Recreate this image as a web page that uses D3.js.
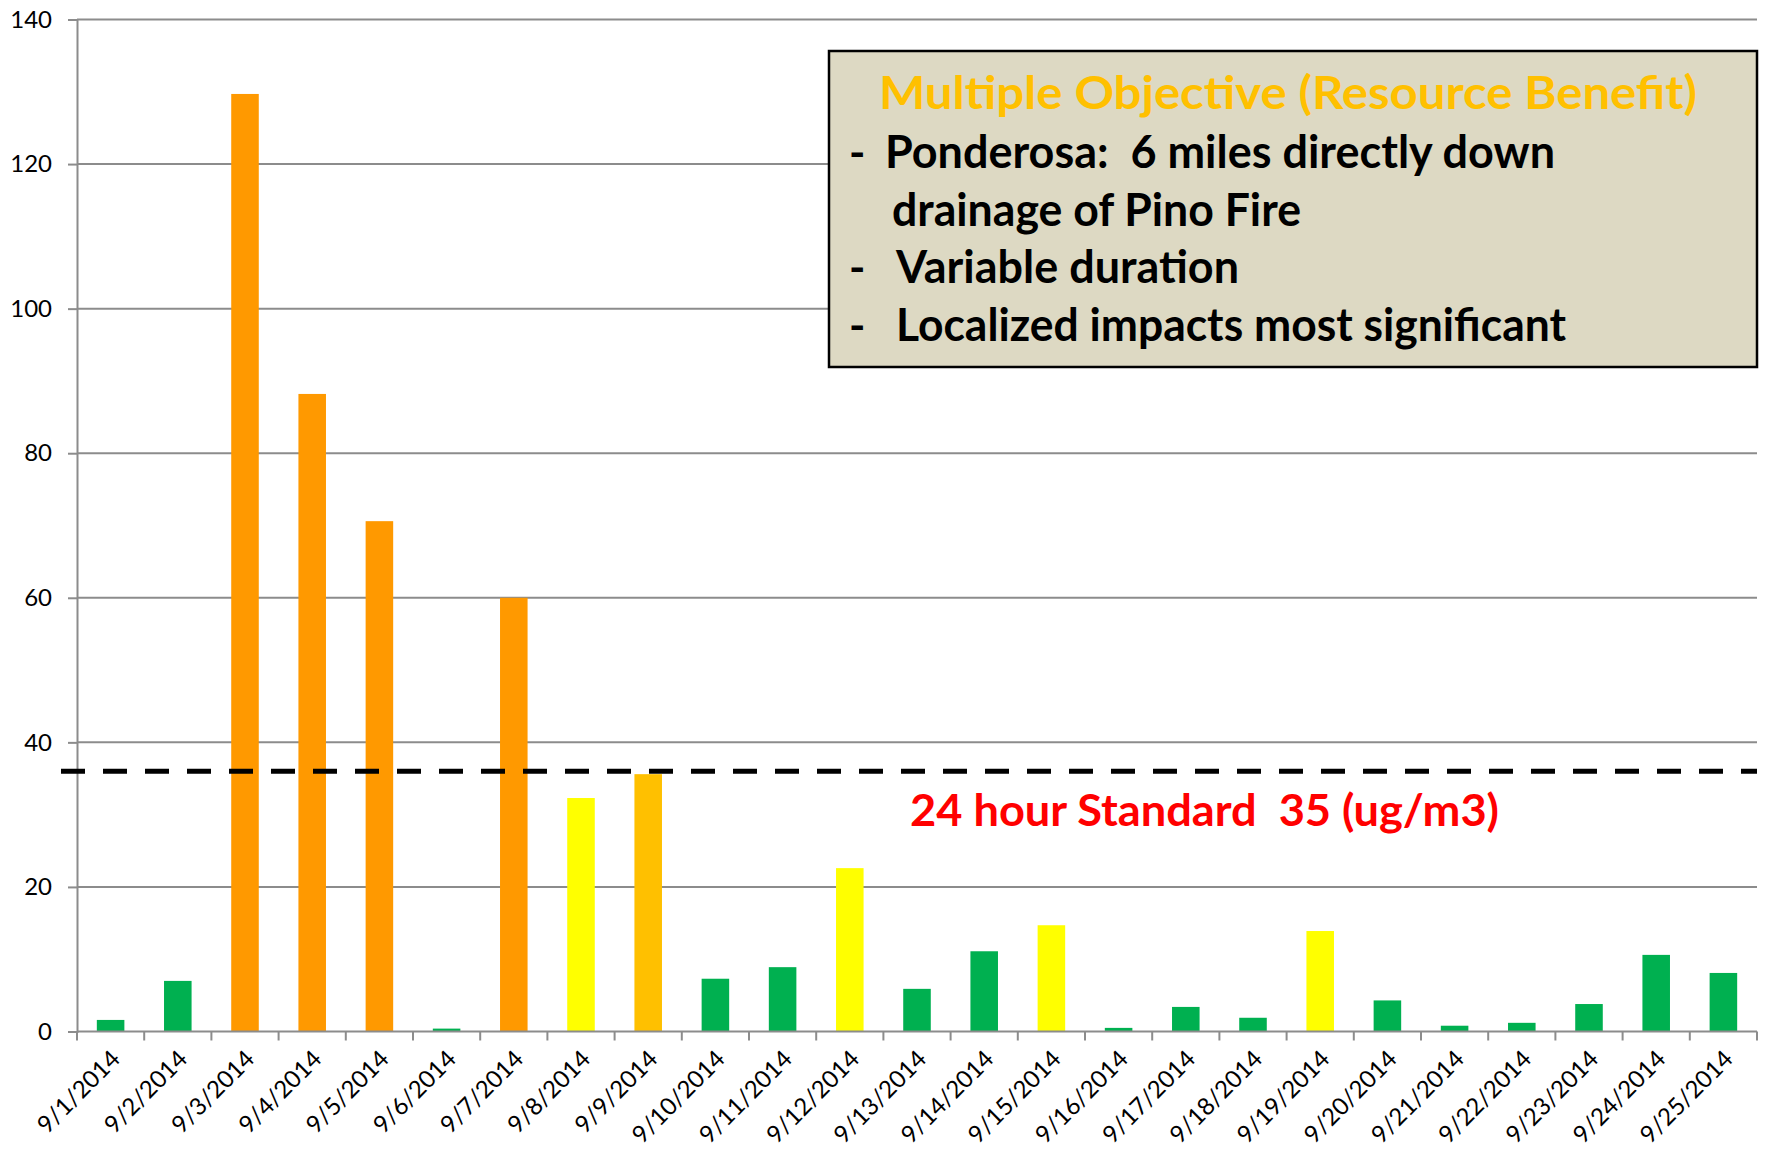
<!DOCTYPE html>
<html lang="en">
<head>
    <meta charset="utf-8" />
    <title>Ponderosa PM2.5 - Pino Fire</title>
    <script src="https://cdn.jsdelivr.net/npm/d3@7/dist/d3.min.js"></script>
    <style>
        body {
            margin: 0;
            background: #fff;
            overflow: hidden;
        }
        svg {
            display: block;
        }
        svg text {
            font-family: Lato, "Open Sans", sans-serif;
            white-space: pre;
        }
    </style>
</head>
<body>
<svg id="chart"></svg>

<script>
    // Data
    const dates = ["9/1/2014", "9/2/2014", "9/3/2014", "9/4/2014", "9/5/2014", "9/6/2014",
        "9/7/2014", "9/8/2014", "9/9/2014", "9/10/2014", "9/11/2014", "9/12/2014",
        "9/13/2014", "9/14/2014", "9/15/2014", "9/16/2014", "9/17/2014", "9/18/2014",
        "9/19/2014", "9/20/2014", "9/21/2014", "9/22/2014", "9/23/2014", "9/24/2014", "9/25/2014"];
    const values = [1.6, 7.0, 129.7, 88.2, 70.6, 0.4, 60.0, 32.3, 35.6, 7.3, 8.9, 22.6,
        5.9, 11.1, 14.7, 0.5, 3.4, 1.9, 13.9, 4.3, 0.8, 1.2, 3.8, 10.6, 8.1];
    // air quality category of each day
    const levels = ["good", "good", "usg", "usg", "usg", "good", "usg", "moderate", "high",
        "good", "good", "moderate", "good", "good", "moderate", "good", "good", "good",
        "moderate", "good", "good", "good", "good", "good", "good"];
    const levelColors = { good: "#00b050", moderate: "#ffff00", high: "#ffc000", usg: "#ff9900" };
    const yTicks = [0, 20, 40, 60, 80, 100, 120, 140];
    const standardLine = 36;
    const standardLabel = "24 hour Standard  35 (ug/m3)";
    const boxTitle = "Multiple Objective (Resource Benefit)";
    const boxLines = [
        { dash: true, text: "Ponderosa:  6 miles directly down" },
        { dash: false, text: "drainage of Pino Fire" },
        { dash: true, text: "Variable duration" },
        { dash: true, text: "Localized impacts most significant" }
    ];

    const W = 1765, H = 1152;
    const plot = { left: 77, right: 1757, top: 19.5, bottom: 1031.5 };
    const gridColor = "#8c8c8c";

    const svg = d3.select("#chart").attr("width", W).attr("height", H);

    const x = d3.scaleBand()
        .domain(dates)
        .range([plot.left, plot.right])
        .paddingInner(0.59)
        .paddingOuter(0.295);

    const y = d3.scaleLinear()
        .domain([0, 140])
        .range([plot.bottom, plot.top]);

    // horizontal gridlines + y ticks
    const yAxis = svg.append("g")
        .attr("transform", `translate(${plot.left},0)`)
        .call(d3.axisLeft(y).tickValues(yTicks).tickSize(9).tickPadding(16));
    yAxis.select(".domain").attr("stroke", gridColor).attr("stroke-width", 2);
    yAxis.selectAll(".tick line").attr("stroke", gridColor).attr("stroke-width", 2);
    yAxis.selectAll(".tick text")
        .attr("fill", "#000")
        .style("font-size", "24px");

    svg.append("g")
        .selectAll("line")
        .data(yTicks.filter(d => d > 0))
        .join("line")
        .attr("x1", plot.left)
        .attr("x2", plot.right)
        .attr("y1", d => y(d))
        .attr("y2", d => y(d))
        .attr("stroke", gridColor)
        .attr("stroke-width", 2);

    // bars
    svg.append("g")
        .selectAll("rect")
        .data(dates)
        .join("rect")
        .attr("x", d => x(d))
        .attr("width", x.bandwidth())
        .attr("y", (d, i) => y(values[i]))
        .attr("height", (d, i) => y(0) - y(values[i]))
        .attr("fill", (d, i) => levelColors[levels[i]]);

    // x axis with ticks between categories
    const step = x.step();
    const xAxis = svg.append("g");
    xAxis.append("line")
        .attr("x1", plot.left).attr("x2", plot.right)
        .attr("y1", y(0)).attr("y2", y(0))
        .attr("stroke", gridColor).attr("stroke-width", 2);
    xAxis.selectAll(".tk")
        .data(d3.range(dates.length + 1))
        .join("line")
        .attr("class", "tk")
        .attr("x1", i => plot.left + i * step)
        .attr("x2", i => plot.left + i * step)
        .attr("y1", y(0))
        .attr("y2", y(0) + 9)
        .attr("stroke", gridColor).attr("stroke-width", 2);
    xAxis.selectAll("text")
        .data(dates)
        .join("text")
        .attr("text-anchor", "end")
        .attr("transform", d => `translate(${x(d) + x.bandwidth() / 2 + 5},${y(0) + 23}) rotate(-45)`)
        .attr("dy", "0.35em")
        .style("font-size", "24px")
        .attr("fill", "#000")
        .text(d => d);

    // 24h standard line
    svg.append("line")
        .attr("x1", 61).attr("x2", plot.right)
        .attr("y1", y(standardLine)).attr("y2", y(standardLine))
        .attr("stroke", "#000")
        .attr("stroke-width", 5)
        .attr("stroke-dasharray", "24,18");

    svg.append("text")
        .attr("x", 910)
        .attr("y", 826)
        .attr("fill", "#ff0000")
        .style("font-size", "44px")
        .style("font-weight", "bold")
        .attr("textLength", 589)
        .attr("lengthAdjust", "spacingAndGlyphs")
        .text(standardLabel);

    // annotation box
    const box = svg.append("g");
    box.append("rect")
        .attr("x", 829).attr("y", 51)
        .attr("width", 1757 - 829).attr("height", 367 - 51)
        .attr("fill", "#ddd9c3")
        .attr("stroke", "#000")
        .attr("stroke-width", 2.5);

    box.append("text")
        .attr("x", 879).attr("y", 109)
        .attr("fill", "#ffc000")
        .style("font-size", "45px")
        .style("font-weight", "bold")
        .attr("textLength", 818)
        .attr("lengthAdjust", "spacingAndGlyphs")
        .text(boxTitle);

    const lineX = [885, 892, 896, 896];
    const lineW = [670, 409, 343, 670];
    boxLines.forEach((ln, i) => {
        const by = 168 + i * 57.5;
        if (ln.dash) {
            box.append("text")
                .attr("x", 849).attr("y", by)
                .style("font-size", "44px")
                .style("font-weight", "bold")
                .text("-");
        }
        box.append("text")
            .attr("x", lineX[i]).attr("y", by)
            .style("font-size", "45px")
            .style("font-weight", "bold")
            .attr("fill", "#000")
            .attr("textLength", lineW[i])
            .attr("lengthAdjust", "spacingAndGlyphs")
            .text(ln.text);
    });
</script>
</body>
</html>
